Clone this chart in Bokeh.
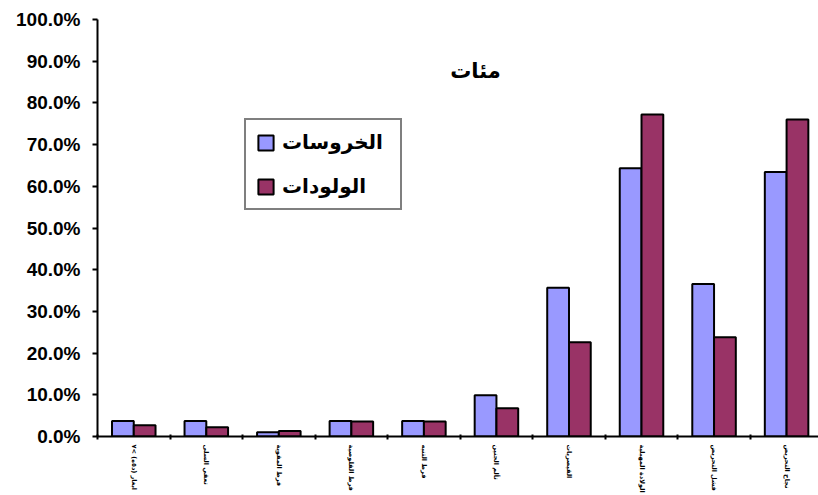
from bokeh.plotting import figure
from bokeh.models import (ColumnDataSource, FixedTicker, NumeralTickFormatter,
                          Legend, LegendItem, Label, Range1d)
from bokeh.transform import dodge
from bokeh.embed import file_html
from bokeh.resources import INLINE

# Categories (left to right) and the two series, as fractions
categories = [
    "ابغار (د٥ه) >٧",
    "تعقي السلى",
    "فرط المقوية",
    "فرط القلوصية",
    "فرط التنبه",
    "تألم الجنين",
    "القيصريات",
    "الولادة المهبلية",
    "فشل التحريض",
    "نجاح التحريض",
]
nulliparous = [0.037, 0.037, 0.010, 0.037, 0.037, 0.099, 0.357, 0.643, 0.366, 0.634]
multiparous = [0.027, 0.022, 0.013, 0.036, 0.036, 0.068, 0.226, 0.772, 0.238, 0.760]
series_names = ["الخروسات ", "الولودات"]
title_text = "مئات"

BLUE = "#9999FF"
PLUM = "#993366"

n = len(categories)
source = ColumnDataSource(dict(
    x=[i + 0.5 for i in range(n)],
    a=nulliparous,
    b=multiparous,
))

# the last category runs slightly past the right edge of the canvas
p = figure(width=818, height=495, output_backend="svg", toolbar_location=None,
           x_range=Range1d(0, n - 0.06), y_range=Range1d(0, 1),
           min_border_left=97, min_border_right=0, min_border_top=19,
           min_border_bottom=56, background_fill_color="white",
           border_fill_color="white")
p.outline_line_color = None
p.xgrid.visible = False
p.ygrid.visible = False

ra = p.vbar(x=dodge("x", -0.15, range=p.x_range), top="a", width=0.3, source=source,
            fill_color=BLUE, line_color="black", line_width=2)
rb = p.vbar(x=dodge("x", 0.15, range=p.x_range), top="b", width=0.3, source=source,
            fill_color=PLUM, line_color="black", line_width=2)

# y axis: percentages
yax = p.yaxis[0]
yax.ticker = FixedTicker(ticks=[i / 10 for i in range(11)])
yax.formatter = NumeralTickFormatter(format="0.0%")
yax.major_label_text_font = "Liberation Sans"
yax.major_label_text_font_style = "bold"
yax.major_label_text_font_size = "19px"
yax.major_label_text_color = "black"
yax.axis_line_width = 2
yax.axis_line_color = "black"
yax.major_tick_in = 0
yax.major_tick_out = 5
yax.major_tick_line_width = 2
yax.minor_tick_line_color = None
yax.major_label_standoff = 12

# x axis: category names at centres, tick marks at boundaries
xax = p.xaxis[0]
xax.ticker = FixedTicker(ticks=[i + 0.5 for i in range(n)],
                         minor_ticks=[float(i) for i in range(n + 1)])
xax.major_label_overrides = {i + 0.5: c for i, c in enumerate(categories)}
xax.major_label_orientation = "vertical"
xax.major_label_text_font = "DejaVu Sans"
xax.major_label_text_font_style = "bold"
xax.major_label_text_font_size = "6.5px"
xax.major_label_text_color = "black"
xax.major_label_standoff = 5
xax.major_tick_line_color = None
xax.major_tick_in = 0
xax.major_tick_out = 0
xax.minor_tick_in = 2
xax.minor_tick_out = 3
xax.minor_tick_line_width = 2
xax.minor_tick_line_color = "black"
xax.axis_line_width = 2
xax.axis_line_color = "black"

# chart title inside the plot area
p.add_layout(Label(x=378, y=366, x_units="screen", y_units="screen", text=title_text,
                   text_font="DejaVu Sans", text_font_style="bold",
                   text_font_size="21px", text_align="center",
                   text_baseline="middle", text_color="black"))

legend = Legend(items=[LegendItem(label=series_names[0], renderers=[ra]),
                       LegendItem(label=series_names[1], renderers=[rb])],
                location=(147, 226), orientation="vertical",
                label_text_font="DejaVu Sans", label_text_font_style="bold",
                label_text_font_size="20px", label_text_color="black",
                glyph_width=19, glyph_height=19, spacing=20,
                padding=10, margin=0, label_standoff=7,
                border_line_color="black", border_line_width=2,
                background_fill_color="white", background_fill_alpha=1)
p.add_layout(legend)

open("out.html", "w").write(file_html(p, INLINE))
